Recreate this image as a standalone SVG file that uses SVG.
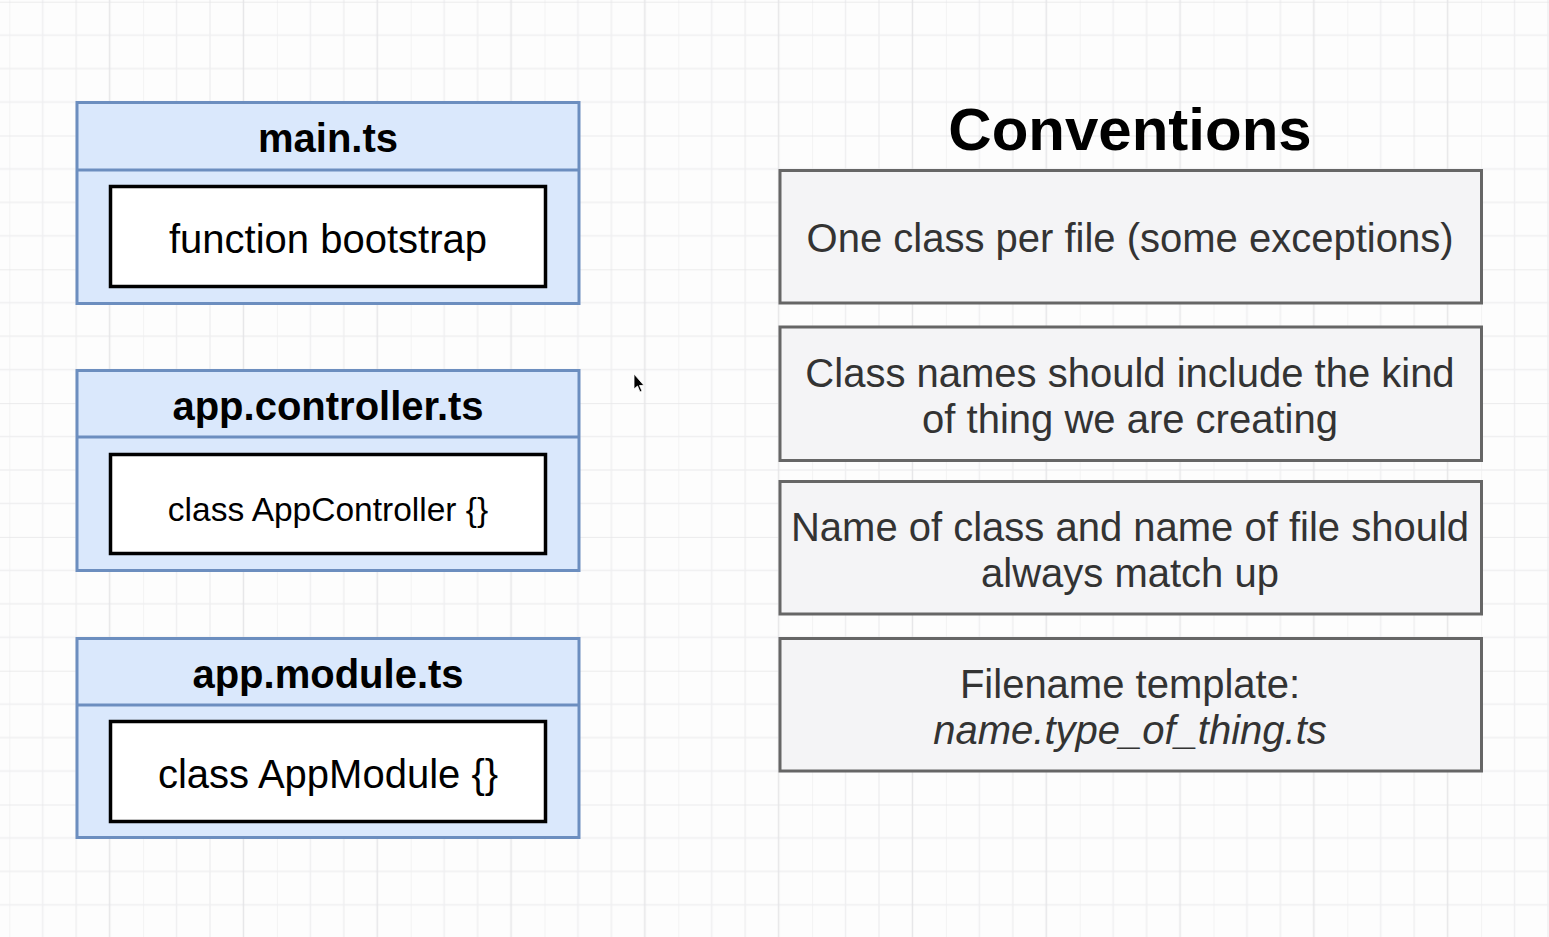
<svg xmlns="http://www.w3.org/2000/svg" width="1549" height="937" viewBox="0 0 1549 937">
<defs>
<pattern id="grid" patternUnits="userSpaceOnUse" x="9.3" y="1.7" width="133.8" height="133.8">
<path d="M0 0V133.8M33.45 0V133.8M66.9 0V133.8M0 33.45H133.8M0 66.9H133.8M0 100.35H133.8" stroke="#efeff1" stroke-width="1.5" fill="none"/>
<path d="M100.35 0V133.8M0 0H133.8" stroke="#e6e6e8" stroke-width="1.5" fill="none"/>
</pattern>
<style>
.outer{fill:#dae8fc;stroke:#6c8ebf;stroke-width:3}
.inner{fill:#ffffff;stroke:#000000;stroke-width:3.5}
.hdr{font-family:"Liberation Sans",Arial,sans-serif;font-weight:bold;font-size:40px;fill:#000;text-anchor:middle}
.body{font-family:"Liberation Sans",Arial,sans-serif;font-size:40px;fill:#000;text-anchor:middle}
.conv{fill:#f4f4f6;stroke:#666666;stroke-width:3}
.ct{font-family:"Liberation Sans",Arial,sans-serif;font-size:40px;fill:#333333;text-anchor:middle}
.title{font-family:"Liberation Sans",Arial,sans-serif;font-weight:bold;font-size:60px;fill:#000;text-anchor:middle}
</style>
</defs>
<rect width="1549" height="937" fill="#fdfdfd"/>
<rect width="1549" height="937" fill="url(#grid)"/>

<g id="main-ts">
<rect class="outer" x="77" y="102.5" width="502" height="201"/>
<line x1="77" y1="170" x2="579" y2="170" stroke="#6c8ebf" stroke-width="3"/>
<text class="hdr" x="328" y="152">main.ts</text>
<rect class="inner" x="110.5" y="186.5" width="435" height="100"/>
<text class="body" x="328" y="253">function bootstrap</text>
</g>

<g id="app-controller-ts">
<rect class="outer" x="77" y="370.5" width="502" height="200"/>
<line x1="77" y1="437" x2="579" y2="437" stroke="#6c8ebf" stroke-width="3"/>
<text class="hdr" x="328" y="420">app.controller.ts</text>
<rect class="inner" x="110.5" y="454.5" width="435" height="99"/>
<text class="body" x="328" y="521" style="font-size:33.5px">class AppController {}</text>
</g>

<g id="app-module-ts">
<rect class="outer" x="77" y="638.5" width="502" height="199"/>
<line x1="77" y1="705" x2="579" y2="705" stroke="#6c8ebf" stroke-width="3"/>
<text class="hdr" x="328" y="688">app.module.ts</text>
<rect class="inner" x="110.5" y="721.5" width="435" height="100"/>
<text class="body" x="328" y="788">class AppModule {}</text>
</g>

<g id="conventions-title">
<text class="title" x="1130" y="150">Conventions</text>
</g>

<g id="conv-1">
<rect class="conv" x="780" y="170.5" width="701.5" height="132.5"/>
<text class="ct" x="1130" y="252">One class per file (some exceptions)</text>
</g>

<g id="conv-2">
<rect class="conv" x="780" y="327" width="701.5" height="133.5"/>
<text class="ct" x="1130" y="387">Class names should include the kind</text>
<text class="ct" x="1130" y="433">of thing we are creating</text>
</g>

<g id="conv-3">
<rect class="conv" x="780" y="481.5" width="701.5" height="132.5"/>
<text class="ct" x="1130" y="541">Name of class and name of file should</text>
<text class="ct" x="1130" y="587">always match up</text>
</g>

<g id="conv-4">
<rect class="conv" x="780" y="638.5" width="701.5" height="132.5"/>
<text class="ct" x="1130" y="698">Filename template:</text>
<text class="ct" x="1130" y="744" font-style="italic">name.type_of_thing.ts</text>
</g>

<g id="connectors"></g>

<g id="cursor">
<path d="M634 374 L634 389 L637.5 386 L640 392 L642 391 L639.5 385.5 L644 385.5 Z" fill="#000" stroke="#fff" stroke-width="0.8"/>
</g>
</svg>
